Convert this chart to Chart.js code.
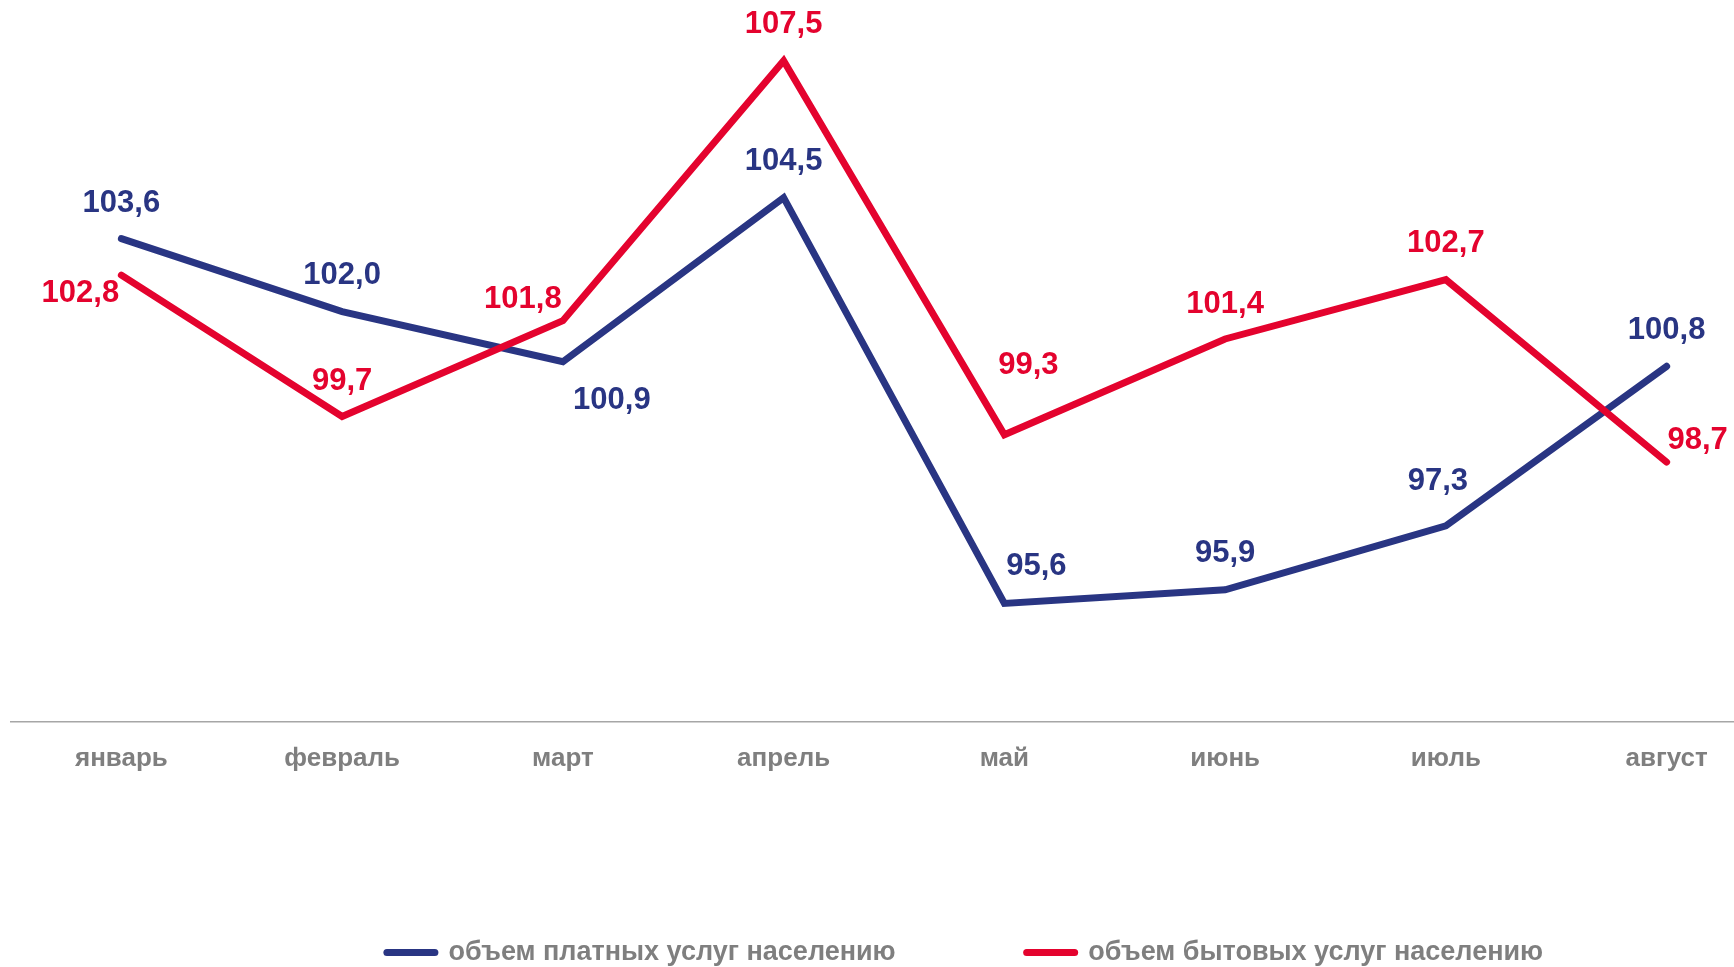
<!DOCTYPE html>
<html lang="ru">
<head>
<meta charset="utf-8">
<title>Объем платных и бытовых услуг</title>
<script src="https://cdn.jsdelivr.net/npm/chart.js@4.4.1/dist/chart.umd.min.js"></script>
<style>
    html, body { margin: 0; padding: 0; background: #fff; overflow: hidden; }
    #wrap { width: 1734px; height: 967px; overflow: hidden; }
</style>
</head>
<body>
<div id="wrap"><canvas id="servicesChart" width="1919" height="967"></canvas></div>
<script>
// Data
let months = ['январь', 'февраль', 'март', 'апрель', 'май', 'июнь', 'июль', 'август'];
let paidLabel = 'объем платных услуг населению';
let paidValues = [103.6, 102.0, 100.9, 104.5, 95.6, 95.9, 97.3, 100.8];
let householdLabel = 'объем бытовых услуг населению';
let householdValues = [102.8, 99.7, 101.8, 107.5, 99.3, 101.4, 102.7, 98.7];

// Where each value label sits relative to its point (px)
let paidLabelOffsets = [[0, -35], [0, -36], [49, 39], [0, -36], [32, -37], [0, -36], [-8, -44], [0, -36]];
let householdLabelOffsets = [[-41, 18], [0, -35], [-40, -21], [0, -36], [24, -69], [0, -35], [0, -36], [31, -22]];

const blue = '#293583';
const red = '#e4032e';
const gray = '#7f7f7f';

Chart.defaults.font.family = "'Liberation Sans', Arial, sans-serif";

// Draws the value near each point, with a comma as decimal mark
const valueLabels = {
    id: 'valueLabels',
    afterDatasetsDraw(chart) {
        const ctx = chart.ctx;
        ctx.save();
        ctx.font = "bold 31px 'Liberation Sans', Arial, sans-serif";
        ctx.textAlign = 'center';
        ctx.textBaseline = 'middle';
        chart.data.datasets.forEach((ds, i) => {
            let meta = chart.getDatasetMeta(i);
            ctx.fillStyle = ds.borderColor;
            meta.data.forEach((pt, j) => {
                let off = ds.labelOffsets[j];
                let text = ds.data[j].toFixed(1).replace('.', ',');
                ctx.fillText(text, pt.x + off[0], pt.y + off[1]);
            });
        });
        ctx.restore();
    }
};

const ctx = document.getElementById('servicesChart').getContext('2d');
new Chart(ctx, {
    type: 'line',
    data: {
        labels: months,
        datasets: [{
            label: paidLabel,
            data: paidValues,
            labelOffsets: paidLabelOffsets,
            borderColor: blue,
            backgroundColor: blue,
            borderWidth: 7,
            borderCapStyle: 'round',
            borderJoinStyle: 'miter',
            pointRadius: 0,
            tension: 0,
            order: 2
        }, {
            label: householdLabel,
            data: householdValues,
            labelOffsets: householdLabelOffsets,
            borderColor: red,
            backgroundColor: red,
            borderWidth: 7,
            borderCapStyle: 'round',
            borderJoinStyle: 'miter',
            pointRadius: 0,
            tension: 0,
            order: 1
        }]
    },
    options: {
        responsive: false,
        animation: false,
        layout: {
            padding: { left: 11, right: 0, top: 38, bottom: 0 }
        },
        scales: {
            x: {
                offset: true,
                grid: { display: false, drawTicks: false },
                border: { display: true, color: '#a6a6a6', width: 1.5 },
                ticks: {
                    color: gray,
                    padding: 21,
                    font: { size: 26, weight: 'bold' }
                },
                afterFit: (scale) => { scale.height = 86; }
            },
            y: {
                // hidden, only keeps room on the right so the legend sits where it should
                position: 'right',
                min: 93,
                max: 108,
                grid: { display: false },
                border: { display: false },
                ticks: { display: false },
                afterFit: (scale) => { scale.width = 142; }
            }
        },
        plugins: {
            tooltip: { enabled: false },
            legend: {
                position: 'bottom',
                maxHeight: 159,
                labels: {
                    usePointStyle: true,
                    pointStyleWidth: 48,
                    padding: 131,
                    color: gray,
                    font: { size: 27, weight: 'bold' },
                    generateLabels: (chart) => chart.data.datasets.map((ds, i) => ({
                        text: ds.label,
                        fillStyle: ds.borderColor,
                        strokeStyle: ds.borderColor,
                        lineWidth: 7,
                        lineCap: 'round',
                        pointStyle: 'line',
                        fontColor: gray,
                        hidden: false,
                        datasetIndex: i
                    }))
                }
            }
        }
    },
    plugins: [valueLabels]
});
</script>
</body>
</html>
